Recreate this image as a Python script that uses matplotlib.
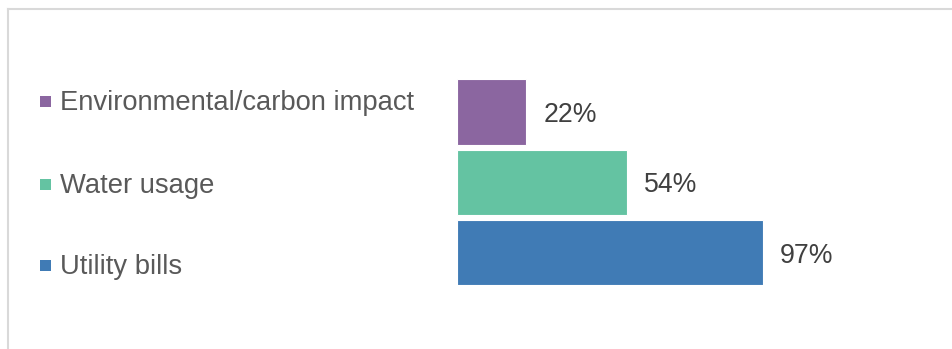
import matplotlib
matplotlib.use("Agg")
import matplotlib.pyplot as plt
from matplotlib.patches import Rectangle
from matplotlib.lines import Line2D

categories = ["Environmental/carbon impact", "Water usage", "Utility bills"]
values = [22, 54, 97]
colors = ["#8B66A0", "#64C3A2", "#407BB5"]
labels = [f"{v}%" for v in values]

plt.rcParams['font.family'] = ['Liberation Sans', 'DejaVu Sans']

W, H = 952, 349
fig = plt.figure(figsize=(W / 100, H / 100), dpi=100)
fig.patch.set_facecolor("white")

# border (top and left visible)
fig.add_artist(Line2D([8 / W, 8 / W], [0, 1 - 9 / H], color="#D9D9D9", lw=1.5,
                      transform=fig.transFigure))
fig.add_artist(Line2D([8 / W, 1], [1 - 9 / H, 1 - 9 / H], color="#D9D9D9", lw=1.5,
                      transform=fig.transFigure))

# axes for bars
x0, y_top, y_bot = 456.7, 79.3, 285.3
xscale = 3.16  # px per percent
ax_w = 480
ax = fig.add_axes([x0 / W, 1 - y_bot / H, ax_w / W, (y_bot - y_top) / H])
ax.set_xlim(0, ax_w / xscale)
bh = 0.927
ax.set_ylim(2 + bh / 2, -bh / 2)
ypos = list(range(len(values)))
bars = ax.barh(ypos, values, height=bh, color=colors, edgecolor="white", linewidth=0.8)
for b, lab in zip(bars, labels):
    ax.annotate(lab, (b.get_width(), b.get_y() + b.get_height() / 2),
                xytext=(17, -3), textcoords="offset pixels", va="center", ha="left",
                fontsize=19.2, color="#404040")
ax.axis("off")

# legend
leg_y = [102, 184, 265]
for cat, col, ly in zip(categories, colors, leg_y):
    fig.add_artist(Rectangle((40 / W, 1 - (ly + 5.5) / H), 11 / W, 11 / H,
                             facecolor=col, edgecolor="none", transform=fig.transFigure))
    fig.text(60 / W, 1 - (ly + 1.5) / H, cat, fontsize=19.7, color="#595959",
             va="center", ha="left")

fig.savefig("out.png", dpi=100)
